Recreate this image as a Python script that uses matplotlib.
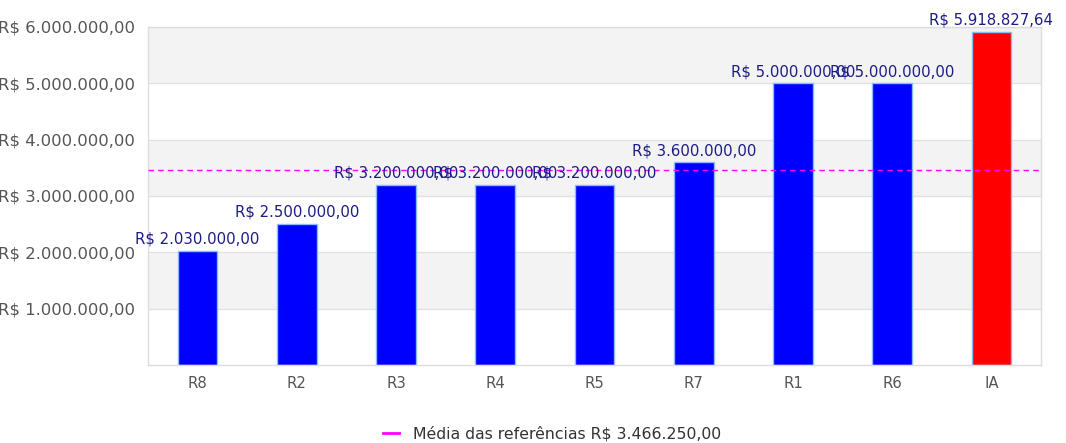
import matplotlib
matplotlib.use("Agg")
import matplotlib.pyplot as plt
from matplotlib.lines import Line2D

categories = ["R8", "R2", "R3", "R4", "R5", "R7", "R1", "R6", "IA"]
values = [2030000.00, 2500000.00, 3200000.00, 3200000.00, 3200000.00,
          3600000.00, 5000000.00, 5000000.00, 5918827.64]
bar_colors = ["#0000ff"] * 8 + ["#ff0000"]
mean_value = 3466250.00
yticks = [1000000, 2000000, 3000000, 4000000, 5000000, 6000000]


def brl(v):
    s = f"{v:,.2f}"
    s = s.replace(",", "X").replace(".", ",").replace("X", ".")
    return "R$ " + s


plt.rcParams['font.family'] = ['DejaVu Sans']
fig = plt.figure(figsize=(10.66, 4.43), dpi=100)
ax = fig.add_axes([148 / 1066, 1 - 365 / 443, (1041 - 148) / 1066, (365 - 27) / 443])

ax.set_xlim(-0.5, len(categories) - 0.5)
ax.set_ylim(0, 6000000)

# alternating bands
for lo in [1000000, 3000000, 5000000]:
    ax.axhspan(lo, lo + 1000000, color="#f3f3f3", zorder=0, lw=0)
for t in yticks:
    ax.axhline(t, color="#e2e2e2", lw=1, zorder=0.5)

x = list(range(len(categories)))
bars = ax.bar(x, values, width=0.4, color=bar_colors, edgecolor="#88bbff",
              linewidth=1, zorder=2)
for xi, v in zip(x, values):
    ax.annotate(brl(v), (xi, v), xytext=(0, 3), textcoords="offset points",
                ha="center", va="bottom", fontsize=10.75, color="#1c1c85", zorder=4)

ax.axhline(mean_value, color="#ff00ff", lw=1, ls=(0, (4, 3)), zorder=3)

ax.set_xticks(x)
ax.set_xticklabels(categories)
ax.set_yticks(yticks)
ax.set_yticklabels([brl(t) for t in yticks])
ax.tick_params(axis="both", length=0, labelcolor="#555555")
ax.tick_params(axis="x", pad=8, labelsize=10.75)
ax.tick_params(axis="y", pad=9.4, labelsize=11.8)
for sp in ax.spines.values():
    sp.set_color("#dddddd")
    sp.set_linewidth(1)

handle = Line2D([0], [0], color="#ff00ff", lw=2)
fig.legend([handle], ["Média das referências " + brl(mean_value)],
           loc="center", bbox_to_anchor=(552 / 1066, 1 - 434 / 443),
           frameon=False, fontsize=11.3, handlelength=1.0, handletextpad=0.9,
           labelcolor="#333333")

fig.savefig("out.png", dpi=100)
